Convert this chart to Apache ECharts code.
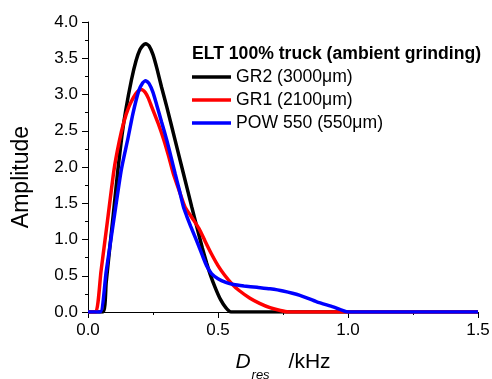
<!DOCTYPE html>
<html>
<head>
<meta charset="utf-8">
<script src="https://cdn.jsdelivr.net/npm/echarts@6/dist/echarts.min.js"></script>
<style>html,body{margin:0;padding:0;background:#fff}#c{width:492px;height:379px}</style>
</head>
<body>
<div id="c"></div>
<script>
const legendTitle = 'ELT 100% truck (ambient grinding)';
const seriesNames = ['GR2 (3000\u03bcm)', 'GR1 (2100\u03bcm)', 'POW 550 (550\u03bcm)'];
const xTicks = [0, 0.5, 1.0, 1.5];
const yTicks = [0, 0.5, 1.0, 1.5, 2.0, 2.5, 3.0, 3.5, 4.0];

const gr2 = [[0,0],[0.058,0],[0.07,0.41],[0.085,0.93],[0.1,1.44],[0.115,1.96],[0.13,2.42],[0.145,2.78],[0.167,3.2],[0.185,3.47],[0.2,3.62],[0.212,3.68],[0.222,3.7],[0.235,3.67],[0.25,3.55],[0.265,3.36],[0.283,3.1],[0.303,2.83],[0.335,2.37],[0.367,1.91],[0.399,1.45],[0.424,1.1],[0.44,0.88],[0.456,0.68],[0.47,0.52],[0.49,0.33],[0.51,0.17],[0.53,0.06],[0.55,0],[1.5,0]];
const gr1 = [[0,0],[0.03,0],[0.05,0.56],[0.075,1.26],[0.1,1.96],[0.12,2.35],[0.138,2.62],[0.156,2.82],[0.175,2.96],[0.19,3.04],[0.205,3.07],[0.22,3.03],[0.232,2.95],[0.245,2.83],[0.27,2.6],[0.292,2.37],[0.31,2.15],[0.328,1.91],[0.35,1.68],[0.373,1.45],[0.4,1.3],[0.427,1.15],[0.45,0.98],[0.475,0.8],[0.5,0.64],[0.525,0.51],[0.553,0.39],[0.58,0.3],[0.623,0.19],[0.66,0.12],[0.7,0.06],[0.74,0.02],[0.77,0],[1.5,0]];
const pow550 = [[0,0],[0.047,0],[0.07,0.56],[0.1,1.29],[0.128,1.96],[0.154,2.4],[0.173,2.74],[0.195,3.05],[0.21,3.16],[0.222,3.19],[0.235,3.15],[0.25,3.03],[0.264,2.86],[0.283,2.62],[0.303,2.37],[0.32,2.13],[0.335,1.91],[0.35,1.7],[0.367,1.45],[0.38,1.32],[0.395,1.18],[0.418,0.98],[0.44,0.78],[0.456,0.64],[0.475,0.53],[0.5,0.46],[0.53,0.41],[0.56,0.38],[0.6,0.36],[0.65,0.34],[0.7,0.32],[0.75,0.29],[0.815,0.23],[0.88,0.14],[0.943,0.07],[1.0,0],[1.5,0]];

const colors = ['#000000', '#ff0000', '#0000ff'];
const FONT = 'Liberation Sans, Arial, sans-serif';

const chart = echarts.init(document.getElementById('c'), null, {renderer: 'canvas'});
function mkSeries(name, data, color) {
  return {
    name: name, type: 'line', data: data, showSymbol: false, smooth: 0.2,
    lineStyle: {color: color, width: 3.5}, itemStyle: {color: color}, animation: false
  };
}
const axisCommon = {
  axisLine: {show: true, lineStyle: {color: '#000', width: 1}},
  axisTick: {show: true, inside: false, length: 6, lineStyle: {color: '#000'}},
  minorTick: {show: true, splitNumber: 2, length: 3, lineStyle: {color: '#000'}},
  splitLine: {show: false},
  axisLabel: {color: '#000', fontSize: 17, fontFamily: FONT, margin: 10, formatter: v => v.toFixed(1)}
};
chart.setOption({
  animation: false,
  backgroundColor: '#fff',
  textStyle: {fontFamily: FONT},
  grid: {left: 88, right: 14, top: 22, bottom: 67, containLabel: false, outerBoundsMode: 'none'},
  title: {
    text: legendTitle, left: 192, top: 45, padding: 0,
    textStyle: {fontSize: 17.6, fontWeight: 'bold', color: '#000', fontFamily: FONT}
  },
  legend: {
    data: seriesNames, orient: 'vertical', left: 192, top: 68, padding: 0,
    icon: 'rect', itemWidth: 39, itemHeight: 3.5, itemGap: 5, selectedMode: false,
    textStyle: {fontSize: 17.6, color: '#000', fontFamily: FONT, lineHeight: 17}
  },
  xAxis: Object.assign({
    type: 'value', min: xTicks[0], max: xTicks[xTicks.length - 1], interval: 0.5,
    name: '{d|D}{s|res}{n|/kHz}', nameLocation: 'middle', nameGap: 31,
    nameTextStyle: {
      fontFamily: FONT, color: '#000',
      rich: {
        d: {fontSize: 21, fontStyle: 'italic', fontFamily: FONT, color: '#000'},
        s: {fontSize: 13, fontStyle: 'italic', fontFamily: FONT, color: '#000', padding: [26, 0, 0, 1]},
        n: {fontSize: 21, fontFamily: FONT, color: '#000', padding: [0, 0, 0, 19]}
      }
    }
  }, axisCommon),
  yAxis: Object.assign({
    type: 'value', min: yTicks[0], max: yTicks[yTicks.length - 1], interval: 0.5,
    name: 'Amplitude', nameLocation: 'middle', nameGap: 55,
    nameTextStyle: {fontSize: 23, color: '#000', fontFamily: FONT, padding: [0, 20, 0, 0]}
  }, axisCommon),
  series: [
    mkSeries(seriesNames[0], gr2, colors[0]),
    mkSeries(seriesNames[1], gr1, colors[1]),
    mkSeries(seriesNames[2], pow550, colors[2])
  ]
});
</script>
</body>
</html>
